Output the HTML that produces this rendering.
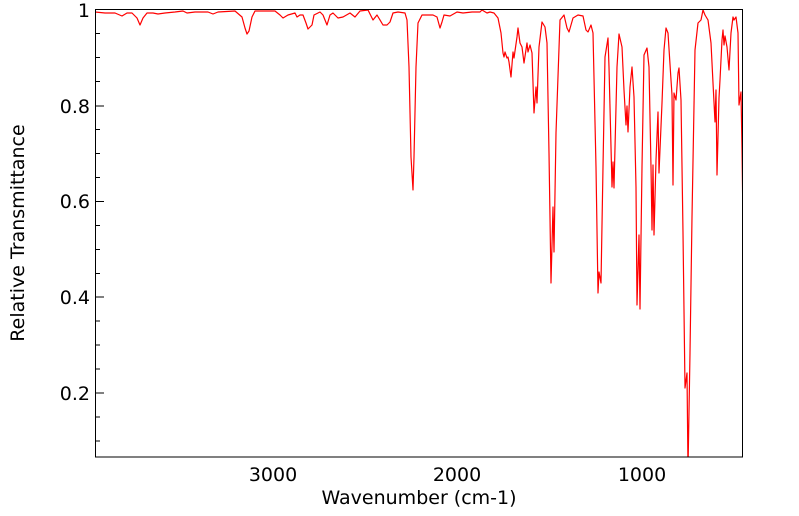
<!DOCTYPE html>
<html><head><meta charset="utf-8"><style>
html,body{margin:0;padding:0;background:#fff;}
svg{display:block;font-family:"DejaVu Sans","Liberation Sans",sans-serif;}
</style></head><body>
<svg width="799" height="516" viewBox="0 0 799 516" xmlns="http://www.w3.org/2000/svg">
<defs><clipPath id="c"><rect x="95" y="9" width="647.5" height="448"/></clipPath></defs>
<g clip-path="url(#c)">
<polyline fill="none" stroke="#ff0000" stroke-width="1.2" stroke-linejoin="round" points="
95,12 105,13 115,13 122,16 127,13 132,13 137,18 140,25 143,18 147,13 153,13 158,14 165,13 175,12 183,11 187,13 195,12 208,12 213,14 218,12 235,11 242,17 245,28 247,34 249,31 252,17 255,11 275,11 280,15 283,18 288,15 295,13
297,17 300,15 303,15 306,23 308,29 312,25 314,15 320,12 323,15 327,25 330,15 333,13 338,18 343,17 350,13 355,17 360,11 368,10 373,20 377,15 383,25 387,25 390,22 393,13 398,12 405,13 407,20 409,67 411,157 413,190 414,157 416,67 418,23 422,15 433,15 437,17 440,28 442,22 444,15 450,16 457,12 463,13 472,12 480,12 482,10 487,13 490,12 494,13 498,18
501,33 503,53 504,57 505,52 507,58 508,57 509,62 511,77 513,52 514,58 517,37 518,28 520,43 522,47 524,63 527,43 528,52 530,45 532,53 534,113 536,87 537,103 539,47 542,22 545,27 547,43 549,153 551,283 553,207 554,252 556,133 560,20 564,15 567,28 569,32 573,18 578,15 583,16 586,30 588,32 591,25 593,33 596,167 598,293 599,272 601,283 603,167 605,57 608,38 609,67 612,187 613,162 614,188 617,67 619,34 622,47 624,90 626,125 627,106 628,132 630,87 632,67 634,97 636,187 637,305 639,235 640,309 642,167 644,55 647,48 649,67 651,167 652,230 653,165 654,235 656,160 658,112 659,173 662,103 664,50 666,28 668,33 671,80 672,95 673,185 674,93 676,100 678,73 679,68 681,100 683,233 685,388 687,373 688,470 690,353 692,217 695,50 698,23 701,20 703,10 705,15 708,20 711,43 713,83 715,122 716,90 717,175 719,98 720,80 722,40 723,30 724,45 725,36 727,47 729,70 731,33 733,17 734,20 736,17 738,33 739,105 741,92 742,150 743,223"/>
</g>
<rect x="95.5" y="9.5" width="647" height="447.5" fill="none" stroke="#000" stroke-width="1"/>
<g stroke="#000" stroke-width="1">
<line x1="95" y1="106" x2="104" y2="106"/><line x1="95" y1="201.5" x2="104" y2="201.5"/><line x1="95" y1="297" x2="104" y2="297"/><line x1="95" y1="393" x2="104" y2="393"/>
<line x1="95" y1="33.5" x2="100" y2="33.5"/><line x1="95" y1="57.5" x2="100" y2="57.5"/><line x1="95" y1="81.5" x2="100" y2="81.5"/>
<line x1="95" y1="129.5" x2="100" y2="129.5"/><line x1="95" y1="153.5" x2="100" y2="153.5"/><line x1="95" y1="177.5" x2="100" y2="177.5"/>
<line x1="95" y1="225.5" x2="100" y2="225.5"/><line x1="95" y1="249.5" x2="100" y2="249.5"/><line x1="95" y1="273.5" x2="100" y2="273.5"/>
<line x1="95" y1="321" x2="100" y2="321"/><line x1="95" y1="345" x2="100" y2="345"/><line x1="95" y1="369" x2="100" y2="369"/>
<line x1="95" y1="417" x2="100" y2="417"/><line x1="95" y1="441" x2="100" y2="441"/>
</g>
<g stroke="#000" stroke-width="1" id="xt"></g>
<g font-size="19" fill="#000" text-anchor="end">
<text x="90" y="17">1</text>
<text x="90" y="113">0.8</text>
<text x="90" y="208">0.6</text>
<text x="90" y="304">0.4</text>
<text x="90" y="400">0.2</text>
</g>
<g font-size="19" fill="#000" text-anchor="middle">
<text x="273" y="481">3000</text>
<text x="457" y="481">2000</text>
<text x="642" y="481">1000</text>
<text x="419" y="504">Wavenumber (cm-1)</text>
<text transform="translate(24,233) rotate(-90)">Relative Transmittance</text>
</g>
<script>
var g=document.getElementById('xt'),s='';
for(var w=3900;w>=500;w-=100){var x=272.7+(3000-w)*0.1845;var L=(w%1000==0)?9:5;
s+='<line x1="'+x.toFixed(1)+'" y1="457" x2="'+x.toFixed(1)+'" y2="'+(457-L)+'"/>';}
g.innerHTML=s;
</script>
</svg>
</body></html>
